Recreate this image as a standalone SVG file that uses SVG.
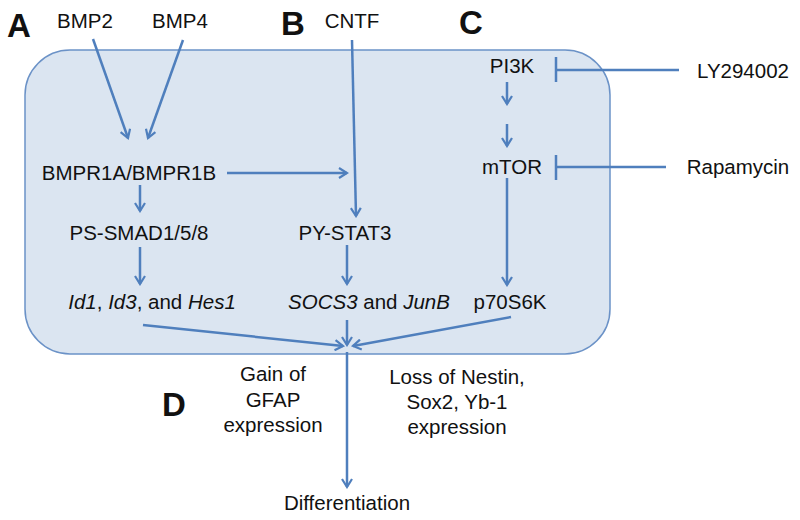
<svg xmlns="http://www.w3.org/2000/svg" width="800" height="520" viewBox="0 0 800 520">
<defs>
<marker id="ah" markerWidth="12" markerHeight="12" refX="10" refY="6" orient="auto" markerUnits="userSpaceOnUse">
<path d="M2,1 L10,6 L2,11" fill="none" stroke="#4f7fbd" stroke-width="2.2"/>
</marker>
<style>
text{font-family:"Liberation Sans",Arial,sans-serif;font-size:20.5px;fill:#111;text-anchor:middle}
.big{font-size:33px;font-weight:bold;text-anchor:start}
.c{stroke:#4f7fbd;stroke-width:2.5;fill:none}
.a{marker-end:url(#ah)}
</style>
</defs>
<rect x="25" y="50" width="585" height="304" rx="45" ry="45" fill="#dbe5f1" stroke="#6b92c7" stroke-width="1.5"/>
<g id="labels">
<text class="big" x="7" y="37">A</text>
<text class="big" x="281" y="35">B</text>
<text class="big" x="459" y="34">C</text>
<text class="big" x="162" y="416">D</text>
</g>
<g id="connectors">
<line class="c a" x1="93" y1="39" x2="128" y2="138"/>
<line class="c a" x1="183" y1="40" x2="148" y2="138"/>
<line class="c a" x1="352" y1="40" x2="356" y2="216"/>
<line class="c a" x1="227" y1="173" x2="347" y2="173"/>
<line class="c a" x1="140" y1="185" x2="140" y2="211"/>
<line class="c a" x1="140" y1="247" x2="140" y2="284"/>
<line class="c a" x1="347" y1="245" x2="347" y2="284"/>
<line class="c a" x1="507" y1="82" x2="507" y2="104"/>
<line class="c a" x1="507" y1="124" x2="507" y2="146"/>
<line class="c a" x1="507" y1="178" x2="507" y2="285"/>
<line class="c" x1="556" y1="70" x2="679" y2="70"/>
<line class="c" x1="556" y1="57" x2="556" y2="82"/>
<line class="c" x1="556" y1="167" x2="666" y2="167"/>
<line class="c" x1="556" y1="155" x2="556" y2="180"/>
<line class="c a" x1="143" y1="325" x2="343" y2="346"/>
<line class="c a" x1="347" y1="320" x2="347" y2="345"/>
<line class="c a" x1="511" y1="317" x2="353" y2="346"/>
<line class="c a" x1="347" y1="352" x2="347" y2="487"/>
</g>
<g id="BMP2"><text x="85" y="28">BMP2</text></g>
<g id="BMP4"><text x="180" y="28">BMP4</text></g>
<g id="CNTF"><text x="352" y="28">CNTF</text></g>
<g id="BMPR"><text x="129" y="180">BMPR1A/BMPR1B</text></g>
<g id="SMAD"><text x="139" y="240">PS-SMAD1/5/8</text></g>
<g id="Id"><text x="152" y="309"><tspan font-style="italic">Id1</tspan>, <tspan font-style="italic">Id3</tspan>, and <tspan font-style="italic">Hes1</tspan></text></g>
<g id="STAT3"><text x="345" y="240">PY-STAT3</text></g>
<g id="SOCS3"><text x="369" y="309"><tspan font-style="italic">SOCS3</tspan> and <tspan font-style="italic">JunB</tspan></text></g>
<g id="PI3K"><text x="512" y="73">PI3K</text></g>
<g id="mTOR"><text x="512" y="174">mTOR</text></g>
<g id="p70S6K"><text x="510" y="309">p70S6K</text></g>
<g id="LY"><text x="743" y="78">LY294002</text></g>
<g id="Rapa"><text x="738" y="174">Rapamycin</text></g>
<g id="gain"><text x="273" y="381">Gain of</text><text x="273" y="407">GFAP</text><text x="273" y="432">expression</text></g>
<g id="loss"><text x="457" y="384">Loss of Nestin,</text><text x="457" y="409">Sox2, Yb-1</text><text x="457" y="434">expression</text></g>
<g id="diff"><text x="347" y="510">Differentiation</text></g>
</svg>
